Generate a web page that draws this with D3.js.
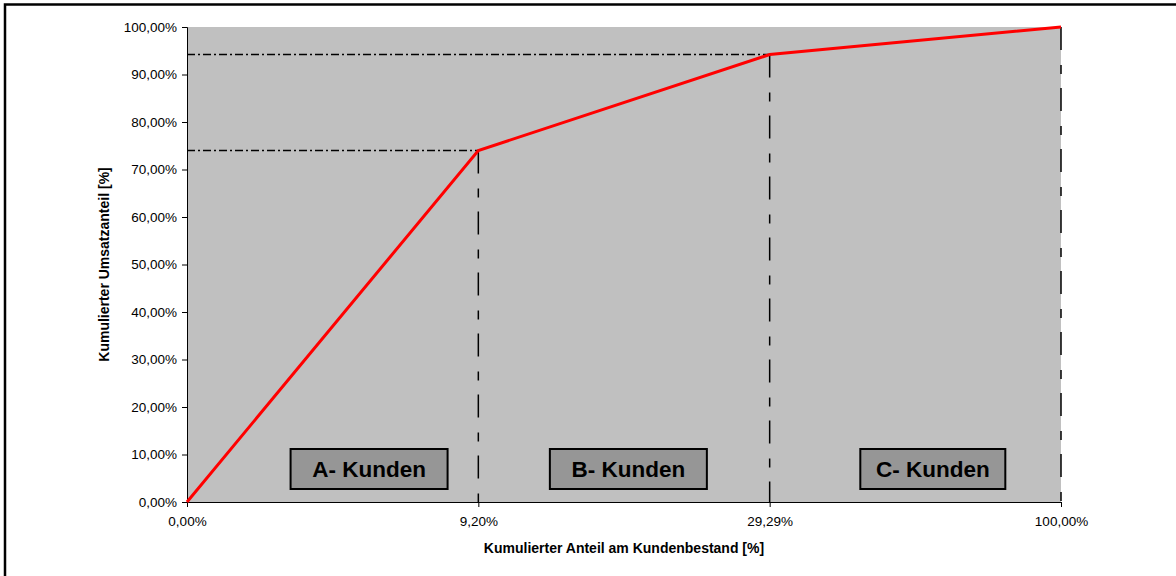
<!DOCTYPE html>
<html>
<head>
<meta charset="utf-8">
<script src="https://cdn.jsdelivr.net/npm/d3@7"></script>
<style>
  html, body { margin: 0; padding: 0; background: #ffffff; }
  svg { display: block; }
  text { font-family: "Liberation Sans", Arial, sans-serif; }
</style>
</head>
<body>
<svg id="chart" width="1176" height="576"></svg>
<script>
// Cumulative customer share (x categories) vs. cumulative revenue share
const categories = ["0,00%", "9,20%", "29,29%", "100,00%"];
const revenueShare = [0, 74.0, 94.2, 100];
const yTicks = [0, 10, 20, 30, 40, 50, 60, 70, 80, 90, 100];
const classLabels = ["A- Kunden", "B- Kunden", "C- Kunden"];
const xTitle = "Kumulierter Anteil am Kundenbestand [%]";
const yTitle = "Kumulierter Umsatzanteil [%]";

const svg = d3.select("#chart");
const plotLeft = 187, plotRight = 1061, plotTop = 27, plotBottom = 502;

const x = d3.scalePoint().domain(categories).range([plotLeft, plotRight]).padding(0);
const y = d3.scaleLinear().domain([0, 100]).range([plotBottom, plotTop]);
const step = x.step();

// outer frame
svg.append("rect")
  .attr("x", 5).attr("y", 4.5).attr("width", 1200).attr("height", 600)
  .attr("fill", "none").attr("stroke", "#000").attr("stroke-width", 2.5);

// plot area
svg.append("rect")
  .attr("x", plotLeft).attr("y", plotTop)
  .attr("width", plotRight - plotLeft).attr("height", plotBottom - plotTop)
  .attr("fill", "#c0c0c0");

const pts = categories.map((c, i) => ({ c, v: revenueShare[i] }));

// guide lines: horizontal (dash-dot) from the y axis, vertical (long-short dash) down to the x axis
const inner = pts.slice(1);
svg.append("g").selectAll("line").data(inner.filter(d => d.v < 100)).join("line")
  .attr("x1", plotLeft).attr("x2", d => x(d.c))
  .attr("y1", d => y(d.v)).attr("y2", d => y(d.v))
  .attr("stroke", "#000").attr("stroke-width", 1.4)
  .attr("stroke-dasharray", "8,3,2,3");
svg.append("g").selectAll("line").data(inner).join("line")
  .attr("x1", d => x(d.c)).attr("x2", d => x(d.c))
  .attr("y1", d => y(d.v)).attr("y2", plotBottom)
  .attr("stroke", "#000").attr("stroke-width", 1.5)
  .attr("stroke-dasharray", "23,15,9,14");

// axes
const yAxis = svg.append("g")
  .attr("transform", `translate(${plotLeft},0)`)
  .call(d3.axisLeft(y).tickValues(yTicks).tickSizeOuter(0).tickSize(5).tickPadding(5)
    .tickFormat(d => d3.format(".2f")(d).replace(".", ",") + "%"));
const xAxis = svg.append("g")
  .attr("transform", `translate(0,${plotBottom})`)
  .call(d3.axisBottom(x).tickSizeOuter(0).tickSize(5).tickPadding(9));
[yAxis, xAxis].forEach(a => {
  a.select(".domain").attr("stroke", "#000").attr("stroke-width", 1);
  a.selectAll(".tick line").attr("stroke", "#000");
  a.selectAll(".tick text").attr("fill", "#000").attr("font-size", "13.5px")
    .attr("font-family", "'Liberation Sans', Arial, sans-serif");
});

// cumulative revenue curve
svg.append("path")
  .datum(pts)
  .attr("d", d3.line().x(d => x(d.c)).y(d => y(d.v)))
  .attr("fill", "none").attr("stroke", "#ff0000").attr("stroke-width", 3)
  .attr("stroke-linejoin", "miter");

// class labels (boxes within each segment)
const boxOffsets = [0.625, 0.515, 0.56];
const boxWidths = [157, 157, 145];
classLabels.forEach((lab, i) => {
  const cx = x(categories[i]) + boxOffsets[i] * step;
  const g = svg.append("g");
  g.append("rect")
    .attr("x", cx - boxWidths[i] / 2).attr("y", 449)
    .attr("width", boxWidths[i]).attr("height", 40)
    .attr("fill", "#969696").attr("stroke", "#000").attr("stroke-width", 2);
  g.append("text")
    .attr("x", cx).attr("y", 477)
    .attr("text-anchor", "middle")
    .attr("font-size", "22.5px").attr("font-weight", "bold").attr("fill", "#000")
    .text(lab);
});

// axis titles
svg.append("text")
  .attr("x", (plotLeft + plotRight) / 2).attr("y", 553)
  .attr("text-anchor", "middle").attr("font-size", "14px").attr("font-weight", "bold")
  .text(xTitle);
svg.append("text")
  .attr("transform", `translate(109,${(plotTop + plotBottom) / 2}) rotate(-90)`)
  .attr("text-anchor", "middle").attr("font-size", "14px").attr("font-weight", "bold")
  .text(yTitle);
</script>
</body>
</html>
